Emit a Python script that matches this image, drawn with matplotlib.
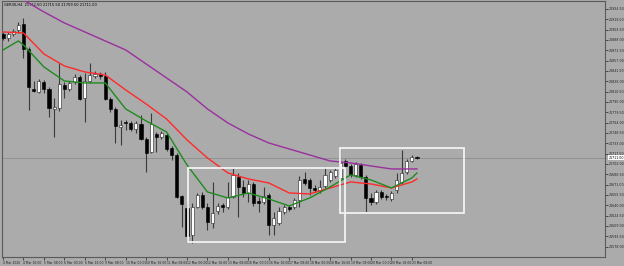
import matplotlib
matplotlib.use("Agg")
import matplotlib.pyplot as plt
from matplotlib.patches import Rectangle
import matplotlib.transforms as mtransforms

# H4 candles (open, high, low, close)
opens = [21897, 21891, 21897, 21903, 21912, 21874.5, 21814.5, 21810, 21825, 21814.5,
         21784.5, 21786, 21820.5, 21814.5, 21825, 21832.5, 21801, 21826.5, 21834, 21837,
         21834, 21799.5, 21784.5, 21757.5, 21765, 21763.5, 21754.5, 21762, 21739.5, 21720,
         21747, 21742.5, 21745.5, 21726, 21715.5, 21654, 21636, 21595.5, 21637.5, 21655.5,
         21637.5, 21613.5, 21631.5, 21640.5, 21637.5, 21652.5, 21682.5, 21667.5, 21658.5, 21672,
         21646.5, 21645, 21655.5, 21610.5, 21613.5, 21630, 21637.5, 21637.5, 21648, 21679.5,
         21678, 21666, 21663, 21669, 21678, 21684, 21681, 21706.5, 21699, 21685.5,
         21700.5, 21682.5, 21651, 21645, 21660, 21654, 21649.5, 21663, 21675, 21690,
         21706.5, 21712.5]
highs = [21900, 21900, 21904.5, 21915, 21921, 21877.5, 21826.5, 21829.5, 21828, 21817.5,
         21801, 21853.5, 21825, 21826.5, 21837, 21835.5, 21838.5, 21853.5, 21841.5, 21840,
         21840, 21802.5, 21787.5, 21768, 21768, 21766.5, 21766.5, 21775.5, 21742.5, 21778.5,
         21750, 21751.5, 21748.5, 21729, 21718.5, 21655.5, 21643.5, 21643.5, 21658.5, 21660,
         21643.5, 21675, 21643.5, 21643.5, 21675, 21696, 21688.5, 21678, 21678, 21675,
         21652.5, 21667.5, 21658.5, 21630, 21637.5, 21640.5, 21640.5, 21651, 21684, 21690,
         21681, 21670.5, 21678, 21697.5, 21693, 21696, 21724.5, 21709.5, 21702, 21705,
         21703.5, 21685.5, 21658.5, 21663, 21663, 21657, 21661.5, 21688.5, 21723, 21709.5,
         21715.5, 21714]
lows = [21888, 21886.5, 21894, 21898.5, 21861, 21783, 21810, 21808.5, 21808.5, 21772.5,
        21742.5, 21781.5, 21801, 21811.5, 21822, 21798, 21765, 21823.5, 21831, 21829.5,
        21798, 21780, 21733.5, 21730.5, 21753, 21751.5, 21748.5, 21738, 21690, 21718.5,
        21720, 21739.5, 21721.5, 21708, 21651, 21607.5, 21585, 21583.5, 21636, 21634.5,
        21603, 21606, 21627, 21630, 21634.5, 21651, 21622.5, 21652.5, 21645, 21639,
        21630, 21642, 21595.5, 21595.5, 21610.5, 21627, 21631.5, 21634.5, 21637.5, 21670.5,
        21655.5, 21660, 21658.5, 21666, 21675, 21681, 21678, 21696, 21682.5, 21682.5,
        21679.5, 21630, 21640.5, 21642, 21649.5, 21648, 21646.5, 21658.5, 21672, 21687,
        21705, 21709.5]
closes = [21891, 21897, 21901.5, 21910.5, 21874.5, 21817.5, 21811.5, 21826.5, 21814.5, 21786,
          21787.5, 21822, 21814.5, 21823.5, 21832.5, 21799.5, 21826.5, 21835.5, 21837, 21834,
          21799.5, 21784.5, 21759, 21760.5, 21763.5, 21754.5, 21763.5, 21739.5, 21718.5, 21762,
          21742.5, 21748.5, 21724.5, 21715.5, 21652.5, 21642, 21594, 21637.5, 21655.5, 21637.5,
          21615, 21628.5, 21639, 21637.5, 21652.5, 21685.5, 21667.5, 21658.5, 21672, 21643.5,
          21643.5, 21654, 21610.5, 21621, 21631.5, 21637.5, 21634.5, 21648, 21678, 21673.5,
          21666, 21663, 21667.5, 21685.5, 21690, 21693, 21703.5, 21699, 21685.5, 21702,
          21682.5, 21651, 21645, 21660, 21652.5, 21652.5, 21658.5, 21678, 21688.5, 21706.5,
          21712.5, 21711]

# moving averages
ma_idx = [0, 4, 8, 12, 16, 20, 24, 28, 32, 36, 40, 44, 48, 52, 56, 60, 64, 68, 72, 76, 80, 81]
ma_slow = [21963, 21948, 21930, 21913.5, 21900, 21886.5, 21873, 21852, 21831, 21810, 21784.5,
           21763.5, 21747, 21733.5, 21724.5, 21715.5, 21706.5, 21703.5, 21699, 21694.5, 21694.5, 21694.5]
ma_mid = [21900, 21898.5, 21867, 21849, 21840, 21835.5, 21813, 21792, 21769.5, 21738, 21711,
          21688.5, 21679.5, 21673.5, 21658.5, 21657, 21666, 21675, 21672, 21666, 21675, 21679.5]
fast_idx = [0, 3, 4, 8, 12, 16, 20, 24, 28, 32, 36, 40, 44, 48, 52, 56, 60, 64, 68, 72, 76, 80, 81]
ma_fast = [21873, 21886.5, 21880.5, 21847.5, 21826.5, 21823.5, 21823.5, 21784.5, 21766.5, 21750,
           21700.5, 21660, 21651, 21658.5, 21649.5, 21639, 21651, 21667.5, 21685.5, 21678, 21666,
           21681, 21688.5]

# boxes: (x0, x1, price_low, price_high)
boxes = [(36.2, 66.9, 21585, 21696), (65.9, 90.2, 21628.5, 21726)]

yticks = [21934.50, 21919.00, 21903.50, 21888.00, 21872.50, 21857.00, 21841.50, 21826.00,
          21810.50, 21795.00, 21779.50, 21764.00, 21748.50, 21733.00, 21717.50, 21702.00,
          21686.50, 21671.00, 21655.50, 21640.00, 21624.50, 21609.00, 21593.50, 21578.00]
xtick_pos = list(range(0, 84, 4))
xtick_labels = ["4 Mar 2020", "4 Mar 16:00", "5 Mar 08:00", "6 Mar 00:00", "6 Mar 16:00",
                "9 Mar 08:00", "10 Mar 00:00", "10 Mar 16:00", "11 Mar 08:00", "12 Mar 00:00",
                "12 Mar 16:00", "13 Mar 08:00", "16 Mar 00:00", "16 Mar 16:00", "17 Mar 08:00",
                "18 Mar 00:00", "18 Mar 16:00", "19 Mar 08:00", "20 Mar 00:00", "20 Mar 16:00",
                "23 Mar 08:00"]
bid = closes[-1]

bg = "#ababab"
fig = plt.figure(figsize=(6.24, 2.66), dpi=100, facecolor=bg)
ax = fig.add_axes([0.0032, 0.034, 0.9664, 0.9606], facecolor=bg)

x = list(range(len(opens)))
ax.vlines(x, lows, highs, color="#3a3a3a", lw=0.8, zorder=2)
for i in x:
    o, c = opens[i], closes[i]
    h = c - o
    if abs(h) < 1.5:
        h = 1.5 if h >= 0 else -1.5
    if c >= o:
        ax.bar(i, h, bottom=o, width=0.62, color="white", edgecolor="#202020", lw=0.4, zorder=3)
    else:
        ax.bar(i, h, bottom=o, width=0.62, color="black", edgecolor="black", lw=0.4, zorder=3)

ax.plot(ma_idx, ma_slow, color="#9a2f9e", lw=1.0, zorder=4)
ax.plot(ma_idx, ma_mid, color="#ff2a2a", lw=1.0, zorder=4)
ax.plot(fast_idx, ma_fast, color="#1f8a1f", lw=1.0, zorder=4)

for x0, x1, lo, hi in boxes:
    ax.add_patch(Rectangle((x0, lo), x1 - x0, hi - lo, fill=False, ec="#f2f2f2", lw=1.3, zorder=5))

ax.axhline(bid, color="#8c8c8c", lw=0.6, zorder=1)

ax.set_xlim(-0.2, 117.8)
ax.set_ylim(21562.5, 21945.75)

ax.yaxis.tick_right()
ax.set_yticks(yticks)
ax.set_yticklabels(["%.2f" % v for v in yticks], fontsize=2.3)
ax.tick_params(axis="y", length=2, width=0.5, pad=1, colors="#202020")
ax.set_xticks(xtick_pos)
ax.set_xticklabels(xtick_labels, fontsize=2.2, ha="left")
ax.tick_params(axis="x", length=2, width=0.5, pad=1, colors="#202020")

for s in ax.spines.values():
    s.set_color("#5a5a5a")
    s.set_linewidth(0.8)

trans = mtransforms.blended_transform_factory(ax.transAxes, ax.transData)
ax.text(1.006, bid, "%.2f" % bid, transform=trans, fontsize=2.3, va="center", ha="left",
        color="black", bbox=dict(boxstyle="square,pad=0.15", fc="white", ec="none"), zorder=6)

ax.text(0.004, 0.995, "GER30,H4  21712.50 21715.50 21709.50 21711.00", transform=ax.transAxes,
        fontsize=2.6, va="top", ha="left", color="black")

fig.savefig("out.png", dpi=100, facecolor=bg)
